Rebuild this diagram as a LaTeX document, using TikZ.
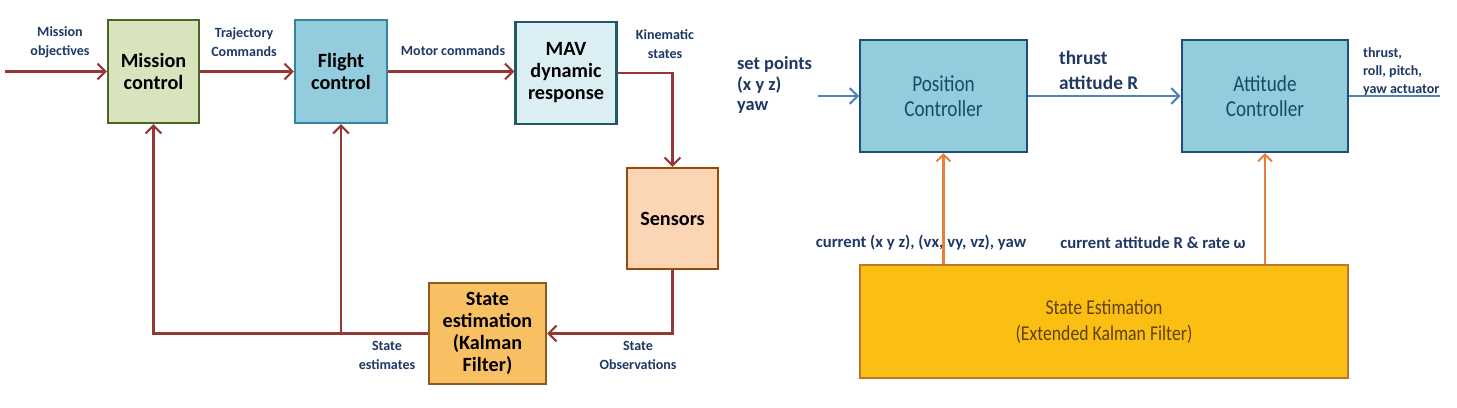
\documentclass[tikz,border=0pt]{standalone}
\usepackage{fontspec}
\setmainfont{Carlito}
\newfontfamily\narrowfont{Carlito}[FakeStretch=0.84]
\usetikzlibrary{
  arrows.meta,
  calc
}
\definecolor{fbred}{HTML}{953735}
\definecolor{lblnavy}{HTML}{1F3864}
\definecolor{missfill}{HTML}{D7E4BD}
\definecolor{missdraw}{HTML}{4F6228}
\definecolor{flightfill}{HTML}{93CDDD}
\definecolor{flightdraw}{HTML}{31859C}
\definecolor{mavfill}{HTML}{DBEEF4}
\definecolor{mavdraw}{HTML}{215968}
\definecolor{sensfill}{HTML}{FCD5B5}
\definecolor{sensdraw}{HTML}{984807}
\definecolor{estfill}{HTML}{F9BF63}
\definecolor{estdraw}{HTML}{8B5A1E}
\definecolor{ctrlfill}{HTML}{93CCDD}
\definecolor{ctrldraw}{HTML}{1F4E79}
\definecolor{ctrltext}{HTML}{1A4A62}
\definecolor{ekffill}{HTML}{FBBF14}
\definecolor{ekfdraw}{HTML}{C0752A}
\definecolor{ekftext}{HTML}{5E4208}
\definecolor{arrblue}{HTML}{4F81BD}
\definecolor{arrorange}{HTML}{E5803A}
\tikzset{
  block/.style={draw, line width=1.2pt, inner sep=0pt, align=center,
    font=\fontsize{11.5}{12.5}\selectfont\bfseries},
  ctrlblock/.style={draw=ctrldraw, fill=ctrlfill, line width=1.2pt,
    inner sep=0pt, align=center, text=ctrltext,
    minimum width=3.33cm, minimum height=2.24cm,
    font=\narrowfont\fontsize{13}{14.5}\selectfont},
  lbl/.style={align=center, inner sep=1pt, text=lblnavy,
    font=\fontsize{8}{10.8}\selectfont\bfseries},
  rlbl/.style={inner sep=1pt, text=lblnavy,
    font=\fontsize{9.5}{11.4}\selectfont\bfseries},
  fbline/.style={draw=fbred, line width=1.4pt},
  fbarrow/.style={fbline,
    -{Straight Barb[length=4.5pt,width=9pt,line width=1.2pt]}},
  blueline/.style={draw=arrblue, line width=1.3pt},
  bluearrow/.style={blueline,
    -{Straight Barb[length=4.5pt,width=9pt,line width=1.2pt]}},
  orarrow/.style={draw=arrorange, line width=1.2pt,
    -{Straight Barb[length=4pt,width=8pt,line width=1.1pt]}}
}

\begin{document}
\begin{tikzpicture}[x=0.02cm, y=-0.02cm]
\useasboundingbox (0,0) rectangle (1457,408);

\node[block, fill=missfill, draw=missdraw, minimum width=1.82cm,
  minimum height=2.06cm] (mission) at (153.5,71.5) {Mission\\control};
\node[block, fill=flightfill, draw=flightdraw, minimum width=1.84cm,
  minimum height=2.06cm] (flight) at (341,71.5) {Flight\\control};
\node[block, fill=mavfill, draw=mavdraw, minimum width=2.02cm,
  minimum height=2.04cm] (mav) at (566,73) {MAV\\dynamic\\response};
\node[block, fill=sensfill, draw=sensdraw, minimum width=1.82cm,
  minimum height=2.02cm] (sensors) at (672.5,218.5) {Sensors};
\node[block, fill=estfill, draw=estdraw, minimum width=2.34cm,
  minimum height=2.02cm] (estim) at (487.5,333.5)
  {State\\estimation\\(Kalman\\Filter)};

\node[lbl] (objlbl) at (60,42) {Mission\\objectives};
\node[lbl] (trajlbl) at (244,42) {Trajectory\\Commands};
\node[lbl] (motlbl) at (453,51) {Motor commands};
\node[lbl] (kinlbl) at (665,44) {Kinematic\\states};
\node[lbl] (obslbl) at (638,355) {State\\Observations};
\node[lbl] (estlbl) at (387,355) {State\\estimates};

\coordinate (objin) at (5,71.5);
\draw[fbarrow] (objin) -- (mission.west);
\draw[fbarrow] (mission.east) -- (flight.west);
\draw[fbarrow] (flight.east) -- (mav.west |- flight.east);
\draw[fbarrow] (mav.east) -| (sensors.north);
\draw[fbarrow] (sensors.south) |- (estim.east);
\draw[fbarrow] (estim.west) -| (mission.south);
\draw[fbarrow] (estim.west -| flight.south) -- (flight.south);

\node[ctrlblock] (pos) at (943.5,96) {Position\\Controller};
\node[ctrlblock] (att) at (1265,96) {Attitude\\Controller};
\node[draw=ekfdraw, fill=ekffill, line width=1.2pt, inner sep=0pt,
  align=center, text=ekftext, minimum width=9.76cm, minimum height=2.26cm,
  font=\narrowfont\fontsize{12}{15}\selectfont] (ekf) at (1104,321.5)
  {State Estimation\\(Extended Kalman Filter)};

\node[rlbl, anchor=west, align=left,
  font=\fontsize{10.5}{11.4}\selectfont\bfseries] (splbl) at (735,85)
  {set points\\(x y z)\\yaw};
\node[rlbl, anchor=west, align=left,
  font=\fontsize{11}{14}\selectfont\bfseries] (thrlbl) at (1057,70)
  {thrust\\attitude R};
\node[rlbl, anchor=west, align=left,
  font=\fontsize{8}{10.2}\selectfont\bfseries] (actlbl) at (1361,72)
  {thrust,\\roll, pitch,\\yaw actuator};
\node[rlbl] (curlbl) at (921,243) {current (x y z), (vx, vy, vz), yaw};
\node[rlbl] (attlbl) at (1153,243) {current attitude R \& rate ω};

\coordinate (spin) at (818,96);
\draw[bluearrow] (spin) -- (pos.west);
\draw[bluearrow] (pos.east) -- (att.west);
\coordinate (actout) at (1440,96);
\draw[blueline] (att.east) -- (actout);
\draw[orarrow] (ekf.north -| pos.south) -- (pos.south);
\draw[orarrow] (ekf.north -| att.south) -- (att.south);
\end{tikzpicture}
\end{document}
